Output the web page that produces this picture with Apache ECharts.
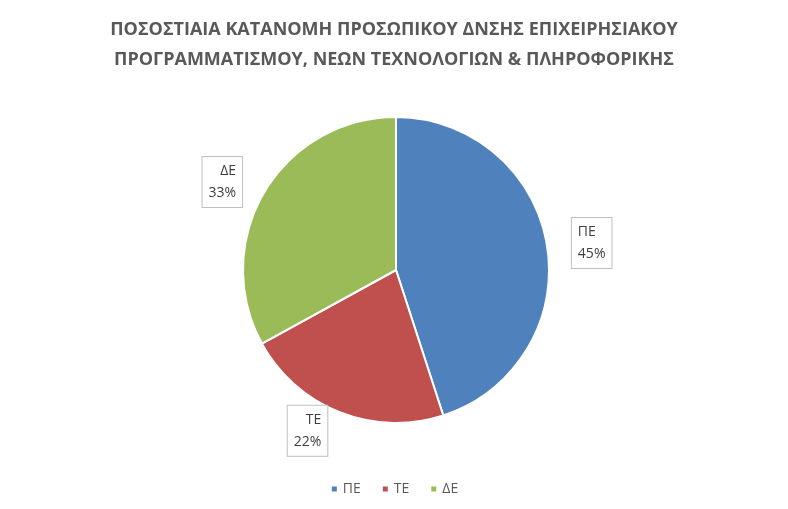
<!DOCTYPE html>
<html><head><meta charset="utf-8">
<script src="https://cdn.jsdelivr.net/npm/echarts@6/dist/echarts.min.js"></script>
<style>html,body{margin:0;padding:0;background:#fff}#c{width:788px;height:509px}</style>
</head><body><div id="c"></div>
<script>
const categories = ['ΠΕ','ΤΕ','ΔΕ'];
const values = [45, 22, 33];
const colors = ['#4F81BD','#C0504D','#9BBB59'];
const chart = echarts.init(document.getElementById('c'));
chart.setOption({
  animation:false,
  title:{text:'ΠΟΣΟΣΤΙΑΙΑ ΚΑΤΑΝΟΜΗ ΠΡΟΣΩΠΙΚΟΥ ΔΝΣΗΣ ΕΠΙΧΕΙΡΗΣΙΑΚΟΥ\nΠΡΟΓΡΑΜΜΑΤΙΣΜΟΥ, ΝΕΩΝ ΤΕΧΝΟΛΟΓΙΩΝ & ΠΛΗΡΟΦΟΡΙΚΗΣ',
    left:'center', top:10,
    textStyle:{fontFamily:'Open Sans',fontSize:18,fontWeight:'bold',color:'#595959',lineHeight:30}},
  legend:{bottom:8,left:'center',itemWidth:7,itemHeight:7,icon:'rect',itemGap:20,
    textStyle:{fontFamily:'Open Sans',fontSize:14,color:'#595959'},data:categories},
  series:[{type:'pie',center:[396,270],radius:153,startAngle:90,clockwise:true,
    itemStyle:{borderColor:'#fff',borderWidth:2},
    label:{show:true,position:'outside',formatter:'{b}\n{d}%',fontFamily:'Open Sans',fontSize:14,
      color:'#404040',lineHeight:22,align:'center',borderColor:'#BFBFBF',borderWidth:1,
      padding:[3,6],backgroundColor:'#fff'},
    labelLine:{show:false,length:20,length2:0},
    data:categories.map((n,i)=>({name:n,value:values[i],itemStyle:{color:colors[i]}}))}]
});
</script></body></html>
